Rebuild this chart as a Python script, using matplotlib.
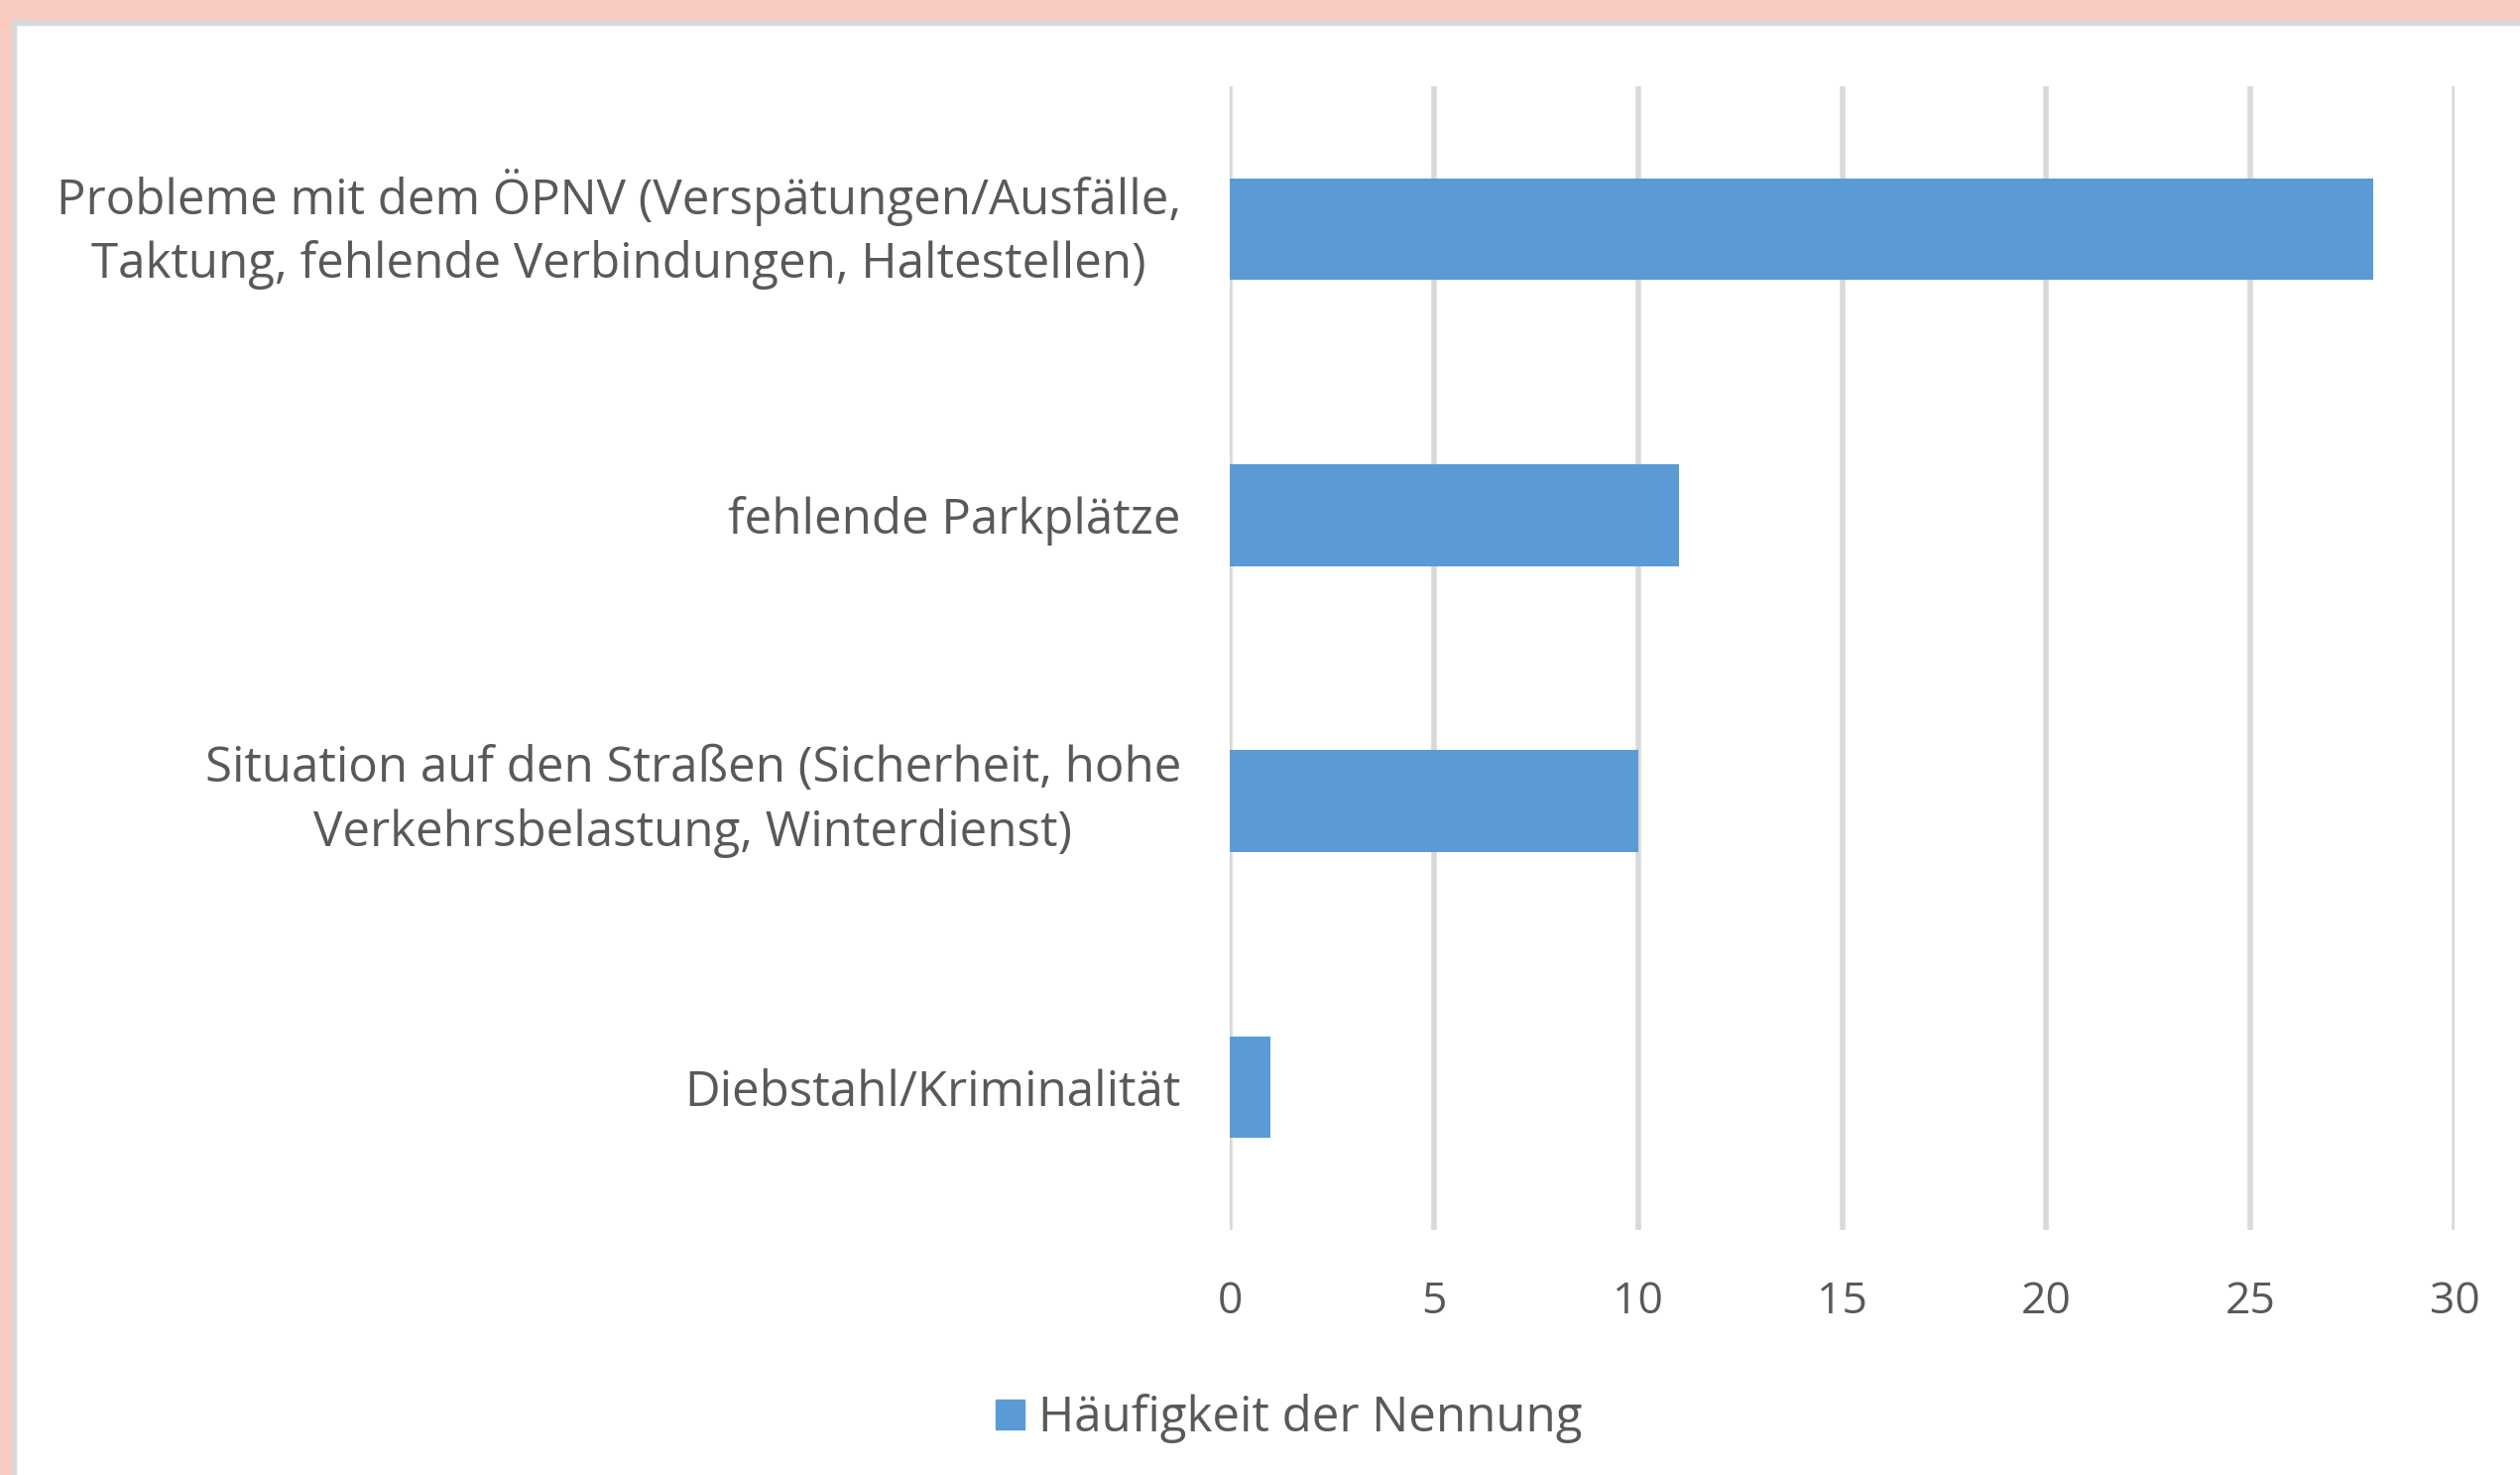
import matplotlib.pyplot as plt
import matplotlib.transforms as mtransforms
from matplotlib.patches import Rectangle, Patch

categories = [
    "Probleme mit dem ÖPNV (Verspätungen/Ausfälle,\nTaktung, fehlende Verbindungen, Haltestellen)",
    "fehlende Parkplätze",
    "Situation auf den Straßen (Sicherheit, hohe\nVerkehrsbelastung, Winterdienst)",
    "Diebstahl/Kriminalität",
]
counts = [28, 11, 10, 1]
xticks = [0, 5, 10, 15, 20, 25, 30]
series_name = "Häufigkeit der Nennung"

bar_color = "#5B9BD5"
grid_color = "#D9D9D9"
text_color = "#595959"
pink = "#F9CCC1"

plt.rcParams['font.family'] = ['Open Sans', 'DejaVu Sans']
size = 32
label_size = 35.5

fig = plt.figure(figsize=(25.41, 14.87), dpi=100)
W, H = 2541, 1487

# frame: pink band top and left, thin gray line inside
fig.patches.append(Rectangle((0, 1 - 20 / H), 1, 20 / H, transform=fig.transFigure,
                             color=pink, zorder=0))
fig.patches.append(Rectangle((0, 0), 12 / W, 1, transform=fig.transFigure,
                             color=pink, zorder=0))
fig.patches.append(Rectangle((12 / W, 1 - 25 / H), 1, 5 / H, transform=fig.transFigure,
                             color=grid_color, zorder=0))
fig.patches.append(Rectangle((12 / W, 0), 4 / W, 1 - 20 / H, transform=fig.transFigure,
                             color=grid_color, zorder=0))

ax = fig.add_axes([1240 / W, 1 - 1240 / H, (2475 - 1240) / W, (1240 - 87) / H])
ypos = list(range(len(categories)))
ax.barh(ypos, counts, height=0.355, color=bar_color, zorder=3)
ax.set_ylim(3.5, -0.5)
ax.set_xlim(0, 30)
ax.set_xticks(xticks)
ax.set_yticks(ypos)
ax.set_yticklabels(categories, ha="center", linespacing=1.38)
ax.tick_params(axis="y", length=0, pad=10, labelsize=label_size, labelcolor=text_color)
ax.tick_params(axis="x", length=0, pad=36, labelsize=size, labelcolor=text_color)
for s in ax.spines.values():
    s.set_visible(False)
ax.grid(axis="x", color=grid_color, linewidth=4, zorder=0)
ax.set_axisbelow(True)

# center-aligned y labels, right edge at a fixed pixel
fig.canvas.draw()
r = fig.canvas.get_renderer()
right_edge = 1191
for lab in ax.get_yticklabels():
    bb = lab.get_window_extent(r)
    if "\n" in lab.get_text():
        lab.set_va("center")
    lab.set_x(0)
    lab.set_transform(ax.get_yaxis_transform() + mtransforms.ScaledTranslation(
        (right_edge - 1240 - bb.width / 2) / 100, 0, fig.dpi_scale_trans))

handle = Patch(color=bar_color)
fig.legend([handle], [series_name], loc="center", bbox_to_anchor=(1300 / W, 1 - 1430 / H),
           frameon=False, fontsize=label_size, labelcolor=text_color,
           handlelength=0.58, handleheight=0.56, handletextpad=0.3)

fig.savefig("out.png", dpi=100, facecolor="white")
